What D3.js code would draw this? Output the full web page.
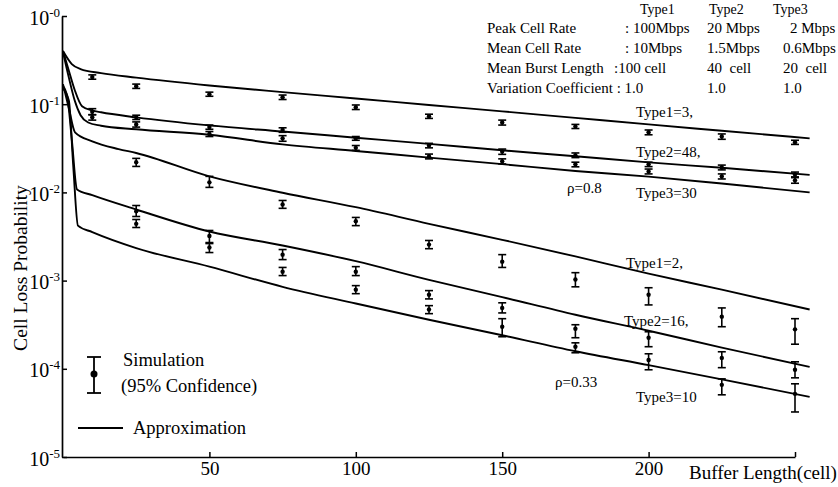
<!DOCTYPE html>
<html>
<head>
<meta charset="utf-8">
<script src="https://cdn.jsdelivr.net/npm/d3@7"></script>
<style>
body { margin: 0; background: #fff; }
svg { display: block; font-family: "Liberation Serif", "Times New Roman", serif; }
</style>
</head>
<body>
<div id="chart"></div>
<script>
// axis ticks
var bufferTicks = [50, 100, 150, 200, 250];
var xTickLabels = ["50", "100", "150", "200", ""];
var yTickExps = [0, -1, -2, -3, -4, -5];

// approximation curves: [buffer length, cell loss probability]
// rho = 0.8
var approxHighT1 = [[0, 0.40], [3, 0.285], [6, 0.25], [13, 0.225], [25, 0.20], [50, 0.163], [75, 0.137], [100, 0.116], [125, 0.098], [150, 0.083], [175, 0.070], [200, 0.059], [225, 0.050], [255, 0.041]];
var approxHighT2 = [[0, 0.40], [2, 0.24], [4, 0.145], [6.5, 0.095], [10, 0.085], [13, 0.081], [25, 0.071], [50, 0.0575], [75, 0.049], [100, 0.0417], [125, 0.0355], [150, 0.030], [175, 0.0257], [200, 0.0219], [225, 0.019], [255, 0.0158]];
var approxHighT3 = [[0, 0.39], [2, 0.2], [4, 0.11], [6, 0.075], [8.6, 0.062], [13, 0.057], [25, 0.052], [50, 0.045], [75, 0.035], [100, 0.0295], [125, 0.0248], [150, 0.0209], [175, 0.0175], [200, 0.0151], [225, 0.0126], [255, 0.010]];
// rho = 0.33
var approxLowT1 = [[0, 0.169], [2, 0.09], [4.1, 0.048], [10, 0.038], [19, 0.031], [25, 0.028], [50, 0.0152], [75, 0.0099], [100, 0.0068], [125, 0.0044], [150, 0.0029], [175, 0.00188], [200, 0.0012], [225, 0.00079], [255, 0.00047]];
var approxLowT2 = [[0, 0.16], [1.5, 0.12], [3, 0.04], [4.8, 0.0108], [10, 0.0093], [25, 0.0064], [50, 0.0036], [75, 0.0025], [100, 0.00166], [125, 0.00102], [150, 0.00065], [175, 0.00041], [200, 0.00027], [225, 0.000174], [255, 0.000105]];
var approxLowT3 = [[0, 0.15], [2, 0.11], [3.5, 0.02], [5.1, 0.0042], [10, 0.00355], [25, 0.00234], [50, 0.00144], [75, 0.00085], [100, 0.00055], [125, 0.00036], [150, 0.00024], [175, 0.000158], [200, 0.00011], [225, 0.000076], [255, 0.000048]];

// simulation: [buffer length, mean, lower 95%, upper 95%]
var simHighT1 = [[10, 0.203, 0.192, 0.215], [25, 0.160, 0.151, 0.169], [50, 0.130, 0.123, 0.137], [75, 0.120, 0.113, 0.127], [100, 0.0925, 0.087, 0.098], [125, 0.073, 0.069, 0.077], [150, 0.062, 0.058, 0.066], [175, 0.056, 0.053, 0.059], [200, 0.048, 0.045, 0.051], [225, 0.043, 0.040, 0.046], [250, 0.037, 0.035, 0.039]];
var simHighT2 = [[10, 0.082, 0.076, 0.089], [25, 0.071, 0.067, 0.075], [50, 0.055, 0.052, 0.058], [75, 0.051, 0.048, 0.054], [100, 0.041, 0.039, 0.043], [125, 0.034, 0.032, 0.036], [150, 0.029, 0.027, 0.031], [175, 0.0263, 0.0248, 0.028], [200, 0.0208, 0.0196, 0.022], [225, 0.0192, 0.018, 0.0204], [250, 0.016, 0.015, 0.017]];
var simHighT3 = [[10, 0.071, 0.066, 0.076], [25, 0.059, 0.055, 0.063], [50, 0.046, 0.043, 0.049], [75, 0.041, 0.038, 0.044], [100, 0.032, 0.030, 0.034], [125, 0.0256, 0.024, 0.0272], [150, 0.0225, 0.021, 0.024], [175, 0.0208, 0.0195, 0.022], [200, 0.0173, 0.0162, 0.0184], [225, 0.0152, 0.0142, 0.0162], [250, 0.0137, 0.0127, 0.0147]];
var simLowT1 = [[25, 0.022, 0.0197, 0.0243], [50, 0.013, 0.0114, 0.0152], [75, 0.0073, 0.0066, 0.0081], [100, 0.0047, 0.0042, 0.0052], [125, 0.00256, 0.0023, 0.00285], [150, 0.00164, 0.00141, 0.00197], [175, 0.00103, 0.00085, 0.00123], [200, 0.00069, 0.00053, 0.00083], [225, 0.00039, 0.0003, 0.00049], [250, 0.00028, 0.00019, 0.00037]];
var simLowT2 = [[25, 0.0061, 0.00533, 0.0071], [50, 0.0032, 0.0027, 0.0037], [75, 0.00197, 0.00173, 0.00225], [100, 0.00126, 0.00114, 0.00144], [125, 0.00069, 0.00062, 0.00077], [150, 0.00049, 0.00043, 0.00056], [175, 0.000285, 0.000225, 0.000316], [200, 0.000225, 0.000178, 0.000263], [225, 0.000133, 0.000103, 0.000156], [250, 0.0000975, 0.000079, 0.00012]];
var simLowT3 = [[25, 0.0044, 0.004, 0.00493], [50, 0.00237, 0.00208, 0.00263], [75, 0.00126, 0.00114, 0.00141], [100, 0.00079, 0.000711, 0.000877], [125, 0.00047, 0.000422, 0.00052], [150, 0.0003, 0.000231, 0.00037], [175, 0.000178, 0.000152, 0.000197], [200, 0.000126, 0.0000975, 0.000148], [225, 0.0000658, 0.0000507, 0.0000769], [250, 0.000052, 0.0000324, 0.0000676]];

// texts
var curveLabels = ["Type1=3,", "Type2=48,", "\u03c1=0.8", "Type3=30", "Type1=2,", "Type2=16,", "\u03c1=0.33", "Type3=10"];
var tableHeader = ["Type1", "Type2", "Type3"];
var tableRows = [
    ["Peak Cell Rate", ": 100Mbps", "20 Mbps", "2 Mbps"],
    ["Mean Cell Rate", ": 10Mbps", "1.5Mbps", "0.6Mbps"],
    ["Mean Burst Length", ":100 cell", "40  cell", "20  cell"],
    ["Variation Coefficient : 1.0", "", "1.0", "1.0"]
];

function plotChart(containerId) {
    var WIDTH = 838;
    var HEIGHT = 487;

    var svg = d3.select('#' + containerId).append("svg")
        .attr("width", WIDTH)
        .attr("height", HEIGHT)
        .attr("font-family", "Liberation Serif, Times New Roman, serif");

    var xScale = d3.scaleLinear().domain([0, 250]).range([63, 795]);
    var yScale = d3.scaleLog().domain([1e-5, 1]).range([457, 16]);

    // x axis
    var xAxis = d3.axisBottom(xScale)
        .tickValues(bufferTicks)
        .tickSizeInner(-5)
        .tickSizeOuter(0)
        .tickFormat(function(d, i) { return xTickLabels[i]; });

    var gx = svg.append("g")
        .attr("transform", "translate(0,457)")
        .call(xAxis)
        .attr("font-family", null)
        .attr("font-size", null);
    gx.select(".domain").attr("stroke-width", 1.7);
    gx.selectAll(".tick line").attr("stroke-width", 1.5);
    gx.selectAll(".tick text")
        .attr("y", 5)
        .attr("dy", "0.71em")
        .style("font-size", "19px")
        .attr("fill", "#000");

    // y axis with 10^-n labels
    var yAxis = d3.axisLeft(yScale)
        .tickValues(yTickExps.map(function(e) { return Math.pow(10, e); }))
        .tickSizeInner(-5)
        .tickSizeOuter(0)
        .tickFormat("");

    var gy = svg.append("g")
        .attr("transform", "translate(62,0)")
        .call(yAxis)
        .attr("font-family", null)
        .attr("font-size", null);
    gy.select(".domain").attr("stroke-width", 1.7);
    gy.selectAll(".tick line").attr("stroke-width", 1.5);
    gy.selectAll(".tick text").each(function(d, i) {
        var t = d3.select(this)
            .attr("x", -2)
            .attr("y", 8)
            .attr("dy", null)
            .attr("fill", "#000")
            .attr("text-anchor", "end");
        t.append("tspan").style("font-size", "20px").text("10");
        t.append("tspan").style("font-size", "13px").attr("dy", -8).text("-" + Math.abs(yTickExps[i]));
    });

    svg.append("text")
        .attr("transform", "translate(27,268) rotate(-90)")
        .attr("text-anchor", "middle")
        .style("font-size", "19.5px")
        .text("Cell Loss Probability");

    svg.append("text")
        .attr("x", 689)
        .attr("y", 479)
        .style("font-size", "19px")
        .text("Buffer Length(cell)");

    // approximation curves
    var line = d3.line()
        .x(function(d) { return xScale(d[0]); })
        .y(function(d) { return yScale(d[1]); })
        .curve(d3.curveMonotoneX);

    var curves = [approxHighT1, approxHighT2, approxHighT3, approxLowT1, approxLowT2, approxLowT3];
    svg.append("g").selectAll("path")
        .data(curves)
        .enter().append("path")
        .attr("d", line)
        .style("fill", "none")
        .style("stroke", "#000")
        .style("stroke-width", 1.9);

    // simulation points with 95% confidence bars
    var sims = [simHighT1, simHighT2, simHighT3, simLowT1, simLowT2, simLowT3];
    var sg = svg.append("g");
    sims.forEach(function(series) {
        var g = sg.append("g").selectAll("g")
            .data(series)
            .enter().append("g")
            .attr("transform", function(d) { return "translate(" + xScale(d[0]) + ",0)"; });
        g.append("line")
            .attr("y1", function(d) { return yScale(d[2]); })
            .attr("y2", function(d) { return yScale(d[3]); })
            .style("stroke", "#000")
            .style("stroke-width", 1.6);
        g.append("line")
            .attr("x1", -4).attr("x2", 4)
            .attr("y1", function(d) { return yScale(d[2]); })
            .attr("y2", function(d) { return yScale(d[2]); })
            .style("stroke", "#000")
            .style("stroke-width", 1.6);
        g.append("line")
            .attr("x1", -4).attr("x2", 4)
            .attr("y1", function(d) { return yScale(d[3]); })
            .attr("y2", function(d) { return yScale(d[3]); })
            .style("stroke", "#000")
            .style("stroke-width", 1.6);
        g.append("circle")
            .attr("cy", function(d) { return yScale(d[1]); })
            .attr("r", 2.2)
            .style("fill", "#000");
    });

    // curve labels
    var labelPos = [[636, 117], [636, 157], [567, 193], [636, 198], [626, 268], [624, 326], [555, 387], [636, 402]];
    svg.append("g").selectAll("text")
        .data(curveLabels)
        .enter().append("text")
        .attr("x", function(d, i) { return labelPos[i][0]; })
        .attr("y", function(d, i) { return labelPos[i][1]; })
        .style("font-size", "15px")
        .text(function(d) { return d; });

    // parameter table
    var colX = [487, 625, 707, 783];
    var headX = [640, 709, 773];
    var tg = svg.append("g").style("font-size", "15px");
    tableHeader.forEach(function(h, i) {
        tg.append("text").attr("x", headX[i]).attr("y", 14).style("font-size", "14px").text(h);
    });
    tableRows.forEach(function(row, r) {
        row.forEach(function(cell, c) {
            var dx = 0;
            if (c == 3 && r == 0) dx = 7;
            if (c == 1 && r == 2) dx = -11;
            tg.append("text")
                .attr("x", colX[c] + dx)
                .attr("y", 33 + r * 20)
                .style("white-space", "pre")
                .text(cell);
        });
    });

    // legend
    var lg = svg.append("g");
    lg.append("line").attr("x1", 94).attr("x2", 94).attr("y1", 357).attr("y2", 393).style("stroke", "#000").style("stroke-width", 1.8);
    lg.append("line").attr("x1", 87).attr("x2", 101).attr("y1", 357).attr("y2", 357).style("stroke", "#000").style("stroke-width", 1.8);
    lg.append("line").attr("x1", 87).attr("x2", 101).attr("y1", 393).attr("y2", 393).style("stroke", "#000").style("stroke-width", 1.8);
    lg.append("circle").attr("cx", 94).attr("cy", 374).attr("r", 3.5).style("fill", "#000");
    lg.append("text").attr("x", 123).attr("y", 366).style("font-size", "18.5px").text("Simulation");
    lg.append("text").attr("x", 121).attr("y", 392).style("font-size", "18.5px").text("(95% Confidence)");
    lg.append("line").attr("x1", 78).attr("x2", 123).attr("y1", 428).attr("y2", 428).style("stroke", "#000").style("stroke-width", 1.8);
    lg.append("text").attr("x", 133).attr("y", 434).style("font-size", "18.5px").text("Approximation");
}

plotChart("chart");
</script>
</body>
</html>
